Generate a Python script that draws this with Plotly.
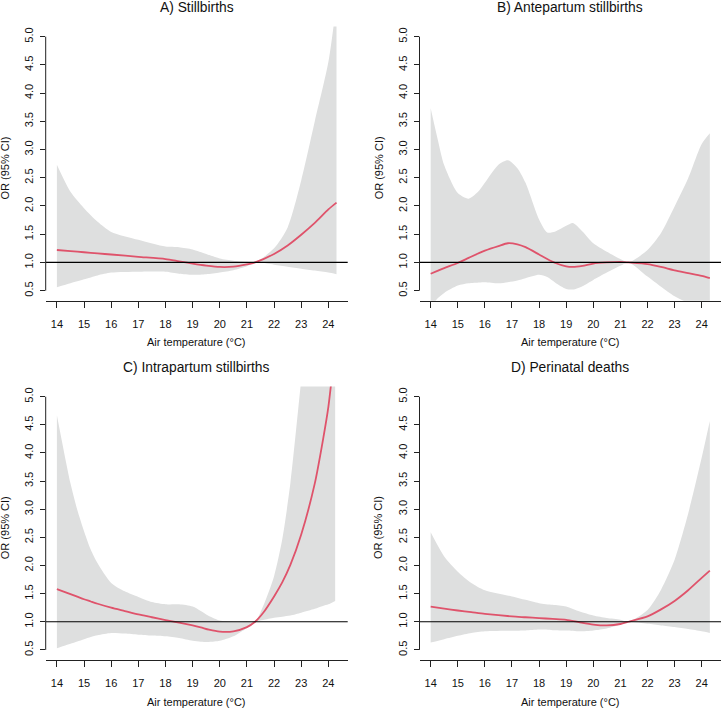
import plotly.graph_objects as go

# ---------------- data ----------------
# Panel A: Stillbirths
a_x = [14, 14.5, 15, 15.5, 16, 17, 18, 18.5, 19, 19.5, 20, 20.5, 21, 21.3, 22, 22.5, 23, 23.5, 24, 24.3]
a_or = [1.22, 1.20, 1.18, 1.16, 1.14, 1.10, 1.06, 1.02, 0.98, 0.945, 0.92, 0.925, 0.965, 1.0, 1.15, 1.30, 1.49, 1.70, 1.94, 2.06]
a_lo = [0.56, 0.63, 0.70, 0.77, 0.82, 0.835, 0.835, 0.80, 0.78, 0.79, 0.82, 0.86, 0.93, 1.0, 0.96, 0.925, 0.89, 0.855, 0.82, 0.79]
a_hi = [2.73, 2.25, 1.96, 1.72, 1.54, 1.40, 1.28, 1.27, 1.23, 1.15, 1.07, 1.03, 1.01, 1.0, 1.25, 1.62, 2.45, 3.5, 4.55, 5.6]

# Panel B: Antepartum stillbirths
b_x = [14, 14.25, 14.5, 15, 15.4, 15.8, 16, 16.5, 16.85, 17.2, 17.5, 18, 18.3, 18.6, 19, 19.25, 19.6, 20, 20.5, 21, 21.3, 22, 22.5, 23, 23.5, 24, 24.3]
b_or = [0.80, 0.85, 0.90, 0.99, 1.08, 1.17, 1.21, 1.29, 1.34, 1.32, 1.27, 1.14, 1.06, 0.99, 0.93, 0.92, 0.94, 0.98, 1.0, 1.01, 1.0, 0.97, 0.92, 0.86, 0.81, 0.76, 0.72]
b_lo = [0.20, 0.36, 0.46, 0.59, 0.63, 0.645, 0.65, 0.63, 0.65, 0.68, 0.72, 0.78, 0.74, 0.64, 0.53, 0.52, 0.58, 0.69, 0.82, 0.94, 1.0, 0.75, 0.57, 0.40, 0.28, 0.15, 0.10]
b_hi = [3.73, 3.20, 2.72, 2.23, 2.13, 2.28, 2.41, 2.73, 2.81, 2.67, 2.41, 1.76, 1.53, 1.55, 1.65, 1.70, 1.55, 1.34, 1.19, 1.06, 1.0, 1.22, 1.52, 1.99, 2.49, 3.10, 3.29]

# Panel C: Intrapartum stillbirths
c_x = [14, 14.25, 14.5, 14.75, 15, 15.25, 15.5, 16, 16.5, 17, 17.5, 18, 18.5, 19, 19.3, 19.6, 20, 20.5, 21, 21.3, 21.6, 22, 22.3, 22.6, 23, 23.5, 23.8, 24, 24.25]
c_or = [1.58, 1.535, 1.49, 1.445, 1.40, 1.36, 1.32, 1.25, 1.19, 1.13, 1.08, 1.03, 0.985, 0.935, 0.90, 0.86, 0.825, 0.83, 0.905, 1.0, 1.16, 1.45, 1.70, 2.01, 2.55, 3.46, 4.23, 4.82, 5.9]
c_lo = [0.53, 0.57, 0.61, 0.65, 0.69, 0.73, 0.76, 0.80, 0.79, 0.77, 0.755, 0.74, 0.71, 0.66, 0.645, 0.64, 0.66, 0.74, 0.89, 1.0, 1.03, 1.07, 1.09, 1.11, 1.16, 1.23, 1.28, 1.31, 1.37]
c_hi = [4.67, 4.05, 3.46, 2.99, 2.61, 2.28, 2.04, 1.69, 1.54, 1.44, 1.35, 1.31, 1.31, 1.27, 1.19, 1.10, 1.02, 1.0, 1.01, 1.0, 1.28, 1.81, 2.46, 3.46, 5.3, 7.5, 9.0, 10.0, 11.0]

# Panel D: Perinatal deaths
d_x = [14, 14.5, 15, 15.5, 16, 17, 17.5, 18, 18.5, 19, 19.5, 20, 20.5, 21, 21.3, 22, 22.5, 23, 23.5, 24, 24.3]
d_or = [1.27, 1.235, 1.20, 1.17, 1.14, 1.095, 1.08, 1.065, 1.05, 1.035, 0.99, 0.95, 0.935, 0.96, 1.0, 1.095, 1.22, 1.37, 1.56, 1.78, 1.91]
d_lo = [0.63, 0.69, 0.75, 0.80, 0.83, 0.84, 0.845, 0.86, 0.85, 0.845, 0.83, 0.845, 0.88, 0.95, 1.0, 0.965, 0.935, 0.905, 0.87, 0.83, 0.80]
d_hi = [2.59, 2.16, 1.89, 1.69, 1.56, 1.45, 1.39, 1.33, 1.30, 1.27, 1.18, 1.11, 1.065, 1.035, 1.0, 1.21, 1.57, 2.10, 2.92, 3.92, 4.57]

titles = ["A) Stillbirths", "B) Antepartum stillbirths", "C) Intrapartum stillbirths", "D) Perinatal deaths"]
x_ticks = list(range(14, 25))
y_ticks = [0.5, 1.0, 1.5, 2.0, 2.5, 3.0, 3.5, 4.0, 4.5, 5.0]
y_ticklabels = ["0.5", "1.0", "1.5", "2.0", "2.5", "3.0", "3.5", "4.0", "4.5", "5.0"]
x_title = "Air temperature (°C)"
y_title = "OR (95% CI)"

# ---------------- styling / layout ----------------
W, H = 722, 709
FONT = "Liberation Sans, Arial, Helvetica, sans-serif"
RED = "#DF536B"
GREY = "#DEDFDF"
AX = "#222222"
TXT = "#111111"
SMOOTH = 0.7

panels = [(a_x, a_or, a_lo, a_hi), (b_x, b_or, b_lo, b_hi), (c_x, c_or, c_lo, c_hi), (d_x, d_or, d_lo, d_hi)]

# plot-area pixel boxes (left, right, top, bottom)
boxes = [(45.7, 347.7, 26.5, 300.8), (419.5, 721.0, 26.5, 300.8),
         (45.7, 347.7, 386.6, 660.0), (419.5, 721.0, 386.6, 660.0)]

xr = [13.588, 24.712]
yr = [0.32, 5.18]

fig = go.Figure()
layout = dict(width=W, height=H, margin=dict(l=0, r=0, t=0, b=0),
              paper_bgcolor="white", plot_bgcolor="white", showlegend=False,
              font=dict(family=FONT, color=TXT))
shapes = []
annotations = []

for i, ((xs, ors, los, his), (l, r, t, b)) in enumerate(zip(panels, boxes)):
    k = "" if i == 0 else str(i + 1)
    xa, ya = "x" + k, "y" + k
    # CI band: lower bound, then upper bound filled down to it
    fig.add_trace(go.Scatter(x=xs, y=los, mode="lines",
                             line=dict(width=0, color=GREY, shape="spline", smoothing=SMOOTH),
                             hoverinfo="skip", xaxis=xa, yaxis=ya))
    fig.add_trace(go.Scatter(x=xs, y=his, mode="lines", fill="tonexty", fillcolor=GREY,
                             line=dict(width=0, color=GREY, shape="spline", smoothing=SMOOTH),
                             hoverinfo="skip", xaxis=xa, yaxis=ya))
    # reference line y = 1
    shapes.append(dict(type="line", xref=xa + " domain", yref=ya, x0=0, x1=1, y0=1, y1=1,
                       line=dict(color="#000000", width=1.1), layer="above"))
    # OR curve
    fig.add_trace(go.Scatter(x=xs, y=ors, mode="lines",
                             line=dict(color=RED, width=1.8, shape="spline", smoothing=SMOOTH),
                             xaxis=xa, yaxis=ya))
    # R-style y axis line spanning first to last tick
    shapes.append(dict(type="line", xref=xa + " domain", yref=ya, x0=0, x1=0, y0=0.5, y1=5.0,
                       line=dict(color=AX, width=1)))

    layout["xaxis" + k] = dict(domain=[l / W, r / W], range=xr, anchor=ya,
                               tickmode="array", tickvals=x_ticks, ticktext=[str(v) for v in x_ticks],
                               ticks="outside", ticklen=6, tickcolor=AX, tickwidth=1,
                               ticklabelstandoff=7,
                               showline=True, linecolor=AX, linewidth=1,
                               showgrid=False, zeroline=False, fixedrange=True,
                               tickfont=dict(size=11, family=FONT, color=TXT))
    layout["yaxis" + k] = dict(domain=[1 - b / H, 1 - t / H], range=yr, anchor=xa,
                               tickmode="array", tickvals=y_ticks, ticktext=y_ticklabels,
                               ticks="outside", ticklen=5, tickcolor=AX, tickwidth=1,
                               ticklabelstandoff=2, fixedrange=True,
                               tickangle=-90, showline=False, showgrid=False, zeroline=False,
                               tickfont=dict(size=11, family=FONT, color=TXT))
    cx = (l + r) / 2
    # panel title
    annotations.append(dict(text=titles[i], xref="paper", yref="paper", x=cx / W,
                            y=1 - (t - 19) / H, xanchor="center", yanchor="middle",
                            showarrow=False, font=dict(size=13.8, family=FONT, color=TXT)))
    # x axis title
    annotations.append(dict(text=x_title, xref="paper", yref="paper", x=cx / W,
                            y=1 - (b + 41.5) / H, xanchor="center", yanchor="middle",
                            showarrow=False, font=dict(size=11, family=FONT, color=TXT)))
    # y axis title
    annotations.append(dict(text=y_title, xref="paper", yref="paper", x=(l - 40.8) / W,
                            y=1 - ((t + b) / 2 + 4) / H, xanchor="center", yanchor="middle",
                            textangle=-90, showarrow=False,
                            font=dict(size=11, family=FONT, color=TXT)))

layout["shapes"] = shapes
layout["annotations"] = annotations
fig.update_layout(**layout)
fig.write_html("out.html", config={"displayModeBar": False},
               post_script="document.body.style.margin='0';document.body.style.padding='0';document.body.style.overflow='hidden';")
